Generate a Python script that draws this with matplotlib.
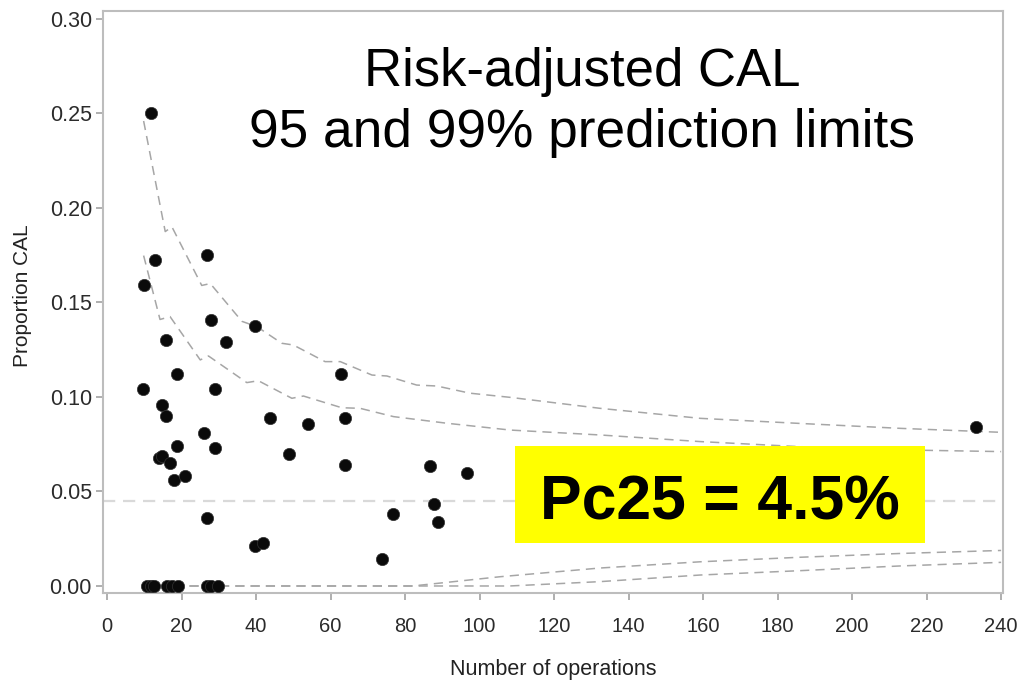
import matplotlib
matplotlib.use("Agg")
import matplotlib.pyplot as plt
from matplotlib.patches import Rectangle

plt.rcParams["font.family"] = ["Liberation Sans", "DejaVu Sans"]

# Observed surgeons: number of operations vs proportion CAL
n_ops = [11.8, 9.85, 12.9, 9.75, 26.8, 15.9, 27.8, 31.8, 39.7, 18.8,
         28.9, 14.8, 15.9, 25.9, 18.8, 28.9, 13.8, 14.8, 16.8, 17.9,
         20.9, 43.8, 53.9, 48.9, 62.8, 63.8, 63.8, 26.8, 39.7, 41.9,
         73.8, 76.8, 86.7, 87.7, 88.8, 96.7, 233.2,
         10.6, 11.7, 12.6, 16.0, 17.4, 18.9, 26.8, 27.9, 29.9]
prop_cal = [0.250, 0.159, 0.1725, 0.104, 0.1753, 0.130, 0.1407, 0.129, 0.1376, 0.1123,
            0.104, 0.0958, 0.0901, 0.0811, 0.0739, 0.0732, 0.0679, 0.0688, 0.0649, 0.0562,
            0.058, 0.0887, 0.0857, 0.070, 0.112, 0.0889, 0.0639, 0.0361, 0.0213, 0.0229,
            0.0144, 0.0383, 0.0637, 0.0434, 0.034, 0.0598, 0.084,
            0, 0, 0, 0, 0, 0, 0, 0, 0]

# Prediction limits (vertices read from the funnel)
u99_n = [9.8, 15.6, 17.4, 25.4, 27.7, 36.2, 40.2, 46.9, 50.0, 58.5, 62.6, 71.1,
         75.1, 83.1, 88.5, 97.4, 108.2, 132.3, 159.2, 186.0, 212.9, 240.0]
u99_p = [0.246, 0.1875, 0.190, 0.159, 0.160, 0.140, 0.1372, 0.1284, 0.1275, 0.1187,
         0.1187, 0.1116, 0.1111, 0.1063, 0.1058, 0.102, 0.0998, 0.094, 0.0887, 0.086,
         0.0834, 0.0813]

u95_n = [9.8, 14.2, 16.9, 25.0, 27.2, 37.5, 40.6, 49.6, 52.7, 63.0, 67.9, 76.9,
         91.2, 108.2, 132.3, 159.2, 186.0, 212.9, 240.0]
u95_p = [0.1748, 0.141, 0.1425, 0.1196, 0.1217, 0.1076, 0.1086, 0.0993, 0.1005,
         0.0943, 0.094, 0.0896, 0.0861, 0.0825, 0.0799, 0.0764, 0.0737, 0.072, 0.0711]

l95_n = [9.8, 82.0, 105.5, 132.3, 159.2, 186.0, 212.9, 240.0]
l95_p = [0.0, 0.0, 0.0049, 0.0095, 0.0128, 0.0152, 0.0172, 0.0188]

l99_n = [9.8, 108.0, 132.3, 159.2, 186.0, 212.9, 240.0]
l99_p = [0.0, 0.0, 0.0023, 0.0058, 0.0081, 0.0106, 0.0125]

pc25 = 0.045

x_ticks = list(range(0, 241, 20))
y_ticks = [0.00, 0.05, 0.10, 0.15, 0.20, 0.25, 0.30]

fig = plt.figure(figsize=(10.17, 6.83), dpi=100)
ax = fig.add_axes([0.1013, 0.1318, 0.8849, 0.8521])

limit_style = dict(color="#a6a6a6", lw=1.1, ls=(0, (6, 4)), zorder=2)
ax.plot(u99_n, u99_p, **limit_style)
ax.plot(u95_n, u95_p, **limit_style)
ax.plot(l95_n, l95_p, **limit_style)
ax.plot(l99_n, l99_p, **limit_style)
ax.axhline(pc25, color="#d9d9d9", lw=1.6, ls=(0, (5.5, 3.5)), zorder=1)

ax.scatter(n_ops, prop_cal, s=78, color="#0a0a0a", edgecolors="#333333",
           linewidths=0.5, zorder=3)

ax.set_xlim(-1.1, 240.5)
ax.set_ylim(-0.0037, 0.3042)
ax.set_xticks(x_ticks)
ax.set_yticks(y_ticks)
ax.set_yticklabels([f"{v:.2f}" for v in y_ticks])

for side in ax.spines.values():
    side.set_color("#bdbdbd")
    side.set_linewidth(1.5)

ax.tick_params(axis="both", colors="#9a9a9a", labelcolor="#2b2b2b",
               length=5, width=1.1)
ax.tick_params(axis="x", pad=12.5, labelsize=14.5)
ax.tick_params(axis="y", pad=3, labelsize=15.5)

ax.set_xlabel("Number of operations", fontsize=15.5, color="#222222")
ax.set_ylabel("Proportion CAL", fontsize=15, color="#222222")
ax.xaxis.set_label_coords(0.5, -0.114)
ax.yaxis.set_label_coords(-0.079, 0.51)

fig.text(0.5723, 0.8741, "Risk-adjusted CAL", fontsize=38,
         ha="center", va="baseline", color="black")
fig.text(0.5723, 0.7848, "95 and 99% prediction limits", fontsize=38.3,
         ha="center", va="baseline", color="black")

box = Rectangle((0.5064, 0.2050), 0.4031, 0.1420, transform=fig.transFigure,
                facecolor="#ffff00", edgecolor="none", zorder=5, clip_on=False)
ax.add_patch(box)
ax.text(0.708, 0.2401, "Pc25 = 4.5%", transform=fig.transFigure,
        fontsize=45, fontweight="bold", ha="center", va="baseline",
        color="black", zorder=6)

fig.savefig("out.png", dpi=100)
